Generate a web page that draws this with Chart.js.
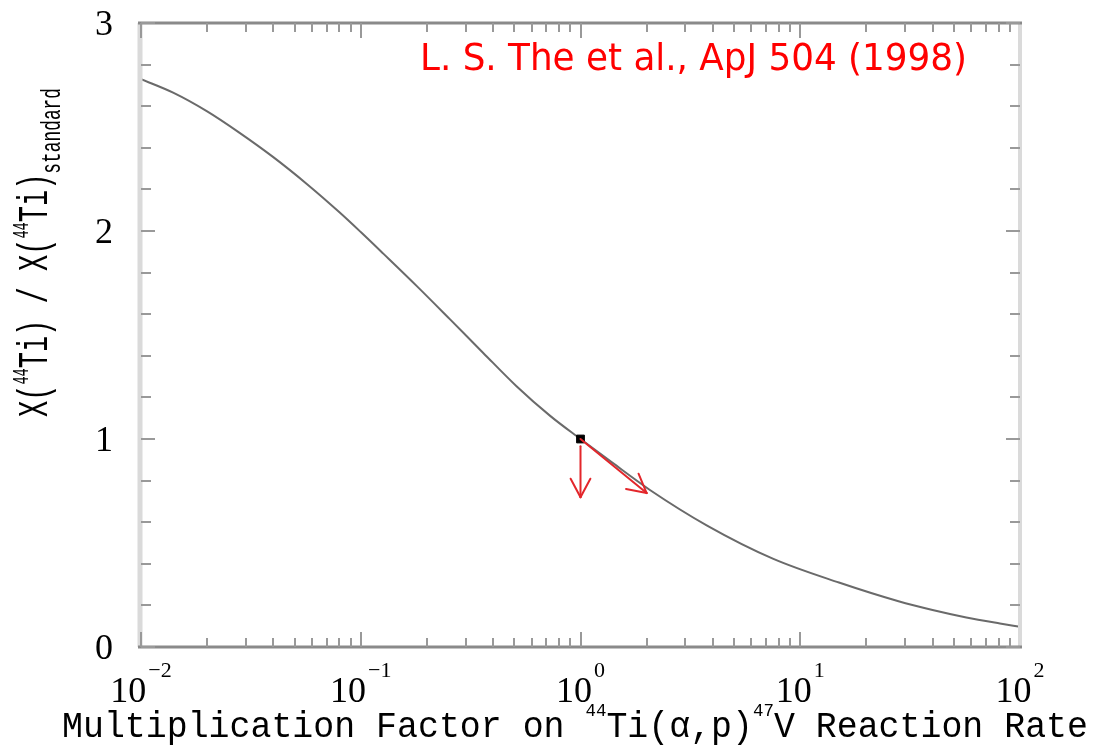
<!DOCTYPE html>
<html><head><meta charset="utf-8">
<script src="https://cdn.jsdelivr.net/npm/chart.js@4/dist/chart.umd.min.js"></script>
<style>html,body{margin:0;padding:0;background:#fff;overflow:hidden}</style>
</head><body>
<canvas id="c" width="1094" height="746"></canvas>
<script>
// ---- data ----
const factor = [0.01, 0.014, 0.02, 0.028, 0.04, 0.057, 0.08, 0.1, 0.127, 0.18, 0.255, 0.36, 0.51, 0.73, 1, 1.4, 2.07, 3.75, 7.5, 15, 28, 40, 57, 81, 100];
const ratio  = [2.73, 2.665, 2.575, 2.473, 2.355, 2.225, 2.09, 1.995, 1.89, 1.735, 1.575, 1.415, 1.255, 1.11, 1.0, 0.885, 0.755, 0.585, 0.425, 0.31, 0.22, 0.178, 0.142, 0.113, 0.097];
const refFactor = [1];
const refRatio = [1];
const arrowStarts = [[1, 0.965], [1, 1]];
const arrowEnds   = [[1, 0.72], [2, 0.74]];
const xMajorTicks = [0.01, 0.1, 1, 10, 100];
const xTickExponents = ['\u22122', '\u22121', '0', '1', '2'];
const yMajorTicks = [0, 1, 2, 3];
const yTickLabels = ['0', '1', '2', '3'];
const yMinorStep = 0.2;
const xTitleParts = [['Multiplication Factor on ', 'main'], ['44', 'sup'], ['Ti(\u03b1,p)', 'main'], ['47', 'sup'], ['V Reaction Rate', 'main']];
const yTitleParts = [['X(', 'main'], ['44', 'sup'], ['Ti) / X(', 'main'], ['44', 'sup'], ['Ti)', 'main'], ['standard', 'sub']];
const annotation = 'L. S. The et al., ApJ 504 (1998)';

function drawRich(ctx, parts, family, o) {
  const F = 40;
  ctx.save();
  ctx.font = F + 'px ' + family;
  const cap = ctx.measureText('M').actualBoundingBoxAscent;
  const sizes = parts.map(p => p[1] === 'main' ? F : F * o.small[p[1]]);
  const widths = parts.map((p, i) => { ctx.font = sizes[i] + 'px ' + family; return ctx.measureText(p[0]).width; });
  const total = widths.reduce((a, b) => a + b, 0);
  const sx = o.length / total, sy = o.cap / cap;
  ctx.translate(o.x, o.y);
  if (o.rotate) ctx.rotate(-Math.PI / 2);
  ctx.scale(sx, sy);
  ctx.fillStyle = o.color;
  ctx.textBaseline = 'alphabetic';
  ctx.textAlign = 'left';
  let cx = 0;
  parts.forEach((p, i) => {
    ctx.font = sizes[i] + 'px ' + family;
    const dy = p[1] === 'sup' ? -o.raise * cap : (p[1] === 'sub' ? o.lower * cap : 0);
    ctx.fillText(p[0], cx, dy);
    cx += widths[i];
  });
  ctx.restore();
}

const deco = {
  id: 'deco',
  afterDatasetsDraw(chart) {
    const {ctx, chartArea: a, scales: {x, y}} = chart;
    const seg = (x1, y1, x2, y2) => { ctx.beginPath(); ctx.moveTo(x1, y1); ctx.lineTo(x2, y2); ctx.stroke(); };
    ctx.save();
    // frame
    ctx.strokeStyle = '#dadada'; ctx.lineWidth = 5;
    seg(a.left - 1, a.top, a.left - 1, a.bottom);
    ctx.lineWidth = 4;
    seg(a.right, a.top, a.right, a.bottom);
    ctx.strokeStyle = '#8a8a8a'; ctx.lineWidth = 3;
    seg(a.left - 3, a.top, a.right + 2, a.top);
    seg(a.left - 3, a.bottom, a.right + 2, a.bottom);
    // x ticks
    ctx.strokeStyle = '#999'; ctx.lineWidth = 2;
    for (let d = -2; d < 2; d++) {
      for (let k = 1; k <= 9; k++) {
        const v = k * Math.pow(10, d);
        const px = Math.round(x.getPixelForValue(v));
        const len = k === 1 ? 15 : 9;
        seg(px, a.bottom, px, a.bottom - len);
        seg(px, a.top, px, a.top + len);
      }
    }
    // y ticks
    for (let i = 0; i <= 15; i++) {
      const v = i * yMinorStep;
      const py = Math.round(y.getPixelForValue(v));
      const len = (i % 5 === 0) ? 14 : 10;
      seg(a.left, py, a.left + len, py);
      seg(a.right, py, a.right - len, py);
    }
    // x tick labels
    ctx.fillStyle = '#000'; ctx.textBaseline = 'alphabetic'; ctx.textAlign = 'left';
    xMajorTicks.forEach((v, i) => {
      const px = x.getPixelForValue(v);
      ctx.font = '36px "Liberation Serif", serif';
      const w1 = ctx.measureText('10').width;
      ctx.font = '22px "Liberation Serif", serif';
      const w2 = ctx.measureText(xTickExponents[i]).width;
      const start = px - (w1 + 2 + w2) / 2;
      ctx.font = '36px "Liberation Serif", serif';
      ctx.fillText('10', start, a.bottom + 55);
      ctx.font = '22px "Liberation Serif", serif';
      ctx.fillText(xTickExponents[i], start + w1 + 2, a.bottom + 30);
    });
    // y tick labels
    ctx.font = '36px "Liberation Serif", serif'; ctx.textAlign = 'right';
    yMajorTicks.forEach((v, i) => {
      ctx.fillText(yTickLabels[i], 113, y.getPixelForValue(v) + 12);
    });
    // axis titles
    const mono = '"Liberation Mono", "DejaVu Sans Mono", monospace';
    drawRich(ctx, xTitleParts, mono, {x: 62, y: 737, length: 1026, cap: 25, small: {sup: 0.5}, raise: 0.85, color: '#000'});
    drawRich(ctx, yTitleParts, mono, {x: 47, y: 417, length: 329, cap: 29, rotate: true, small: {sup: 0.5, sub: 0.66}, raise: 0.65, lower: 0.45, color: '#000'});
    // annotation
    drawRich(ctx, [[annotation, 'main']], '"DejaVu Sans Condensed", "Liberation Sans Narrow", "DejaVu Sans", sans-serif', {x: 420, y: 70, length: 547, cap: 28, small: {}, color: '#ff0000'});
    // arrows
    ctx.strokeStyle = '#e3262b'; ctx.lineWidth = 2; ctx.lineCap = 'round';
    arrowStarts.forEach((s, i) => {
      const x1 = x.getPixelForValue(s[0]), y1 = y.getPixelForValue(s[1]);
      const x2 = x.getPixelForValue(arrowEnds[i][0]), y2 = y.getPixelForValue(arrowEnds[i][1]);
      seg(x1, y1, x2, y2);
      const ang = Math.atan2(y1 - y2, x1 - x2);
      const hl = 21, ha = 28 * Math.PI / 180;
      seg(x2, y2, x2 + hl * Math.cos(ang + ha), y2 + hl * Math.sin(ang + ha));
      seg(x2, y2, x2 + hl * Math.cos(ang - ha), y2 + hl * Math.sin(ang - ha));
    });
    ctx.restore();
  }
};

new Chart(document.getElementById('c'), {
  type: 'line',
  data: {
    datasets: [
      {data: refFactor.map((f, i) => ({x: f, y: refRatio[i]})), showLine: false, pointStyle: 'rect', pointRadius: 5.5, backgroundColor: '#000', borderColor: '#000', borderWidth: 1, order: 0},
      {data: factor.map((f, i) => ({x: f, y: ratio[i]})), borderColor: '#6a6a6a', borderWidth: 2, pointRadius: 0, cubicInterpolationMode: 'monotone', fill: false, order: 1}
    ]
  },
  options: {
    responsive: false, animation: false, devicePixelRatio: 1, events: [],
    layout: {padding: {left: 141, top: 23, right: 74, bottom: 99}},
    plugins: {legend: {display: false}, tooltip: {enabled: false}},
    scales: {
      x: {type: 'logarithmic', min: 0.01, max: 100, display: false},
      y: {type: 'linear', min: 0, max: 3, display: false}
    }
  },
  plugins: [deco]
});
</script>
</body></html>
